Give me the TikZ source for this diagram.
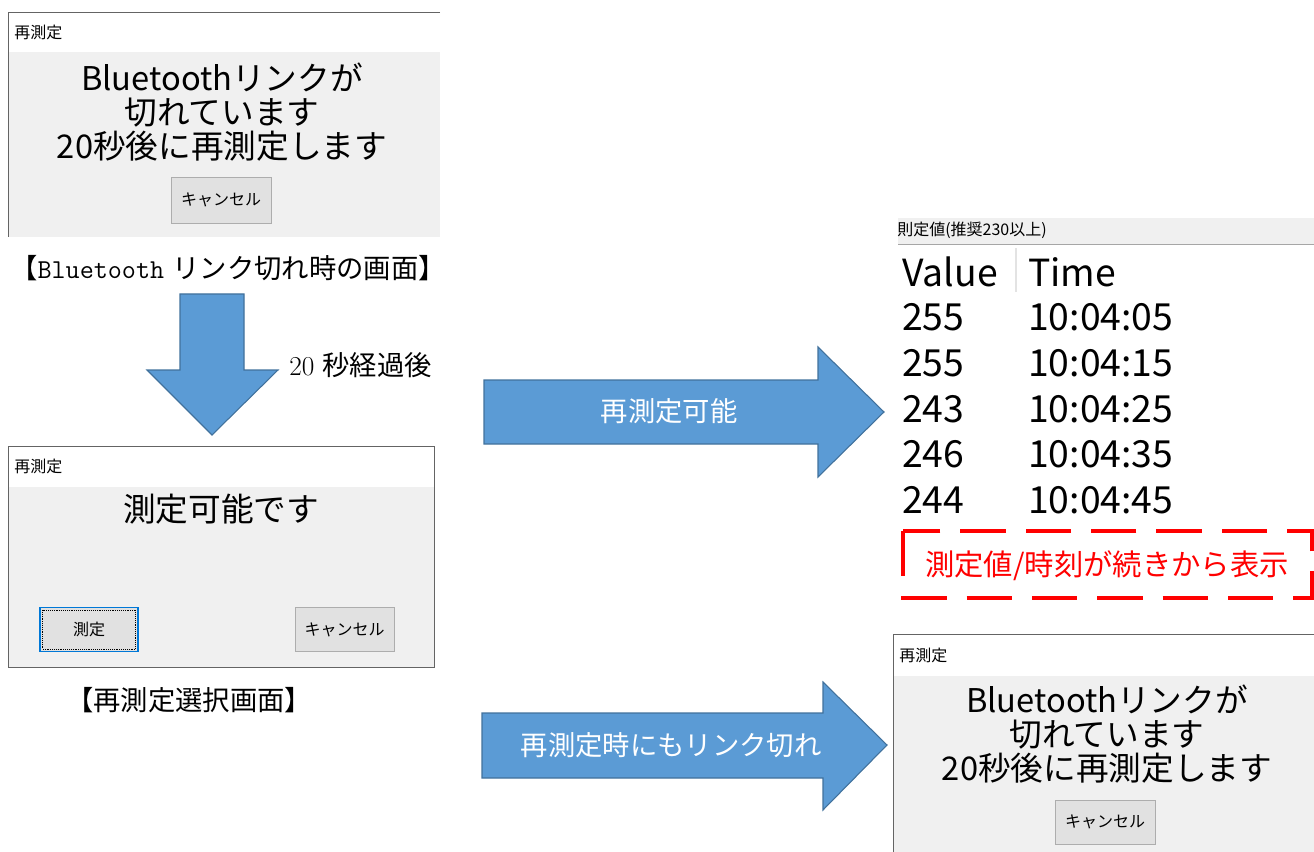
\documentclass[tikz,border=0pt]{standalone}
\usepackage{fontspec}
\newfontfamily\jp{Noto Sans CJK JP}
\usetikzlibrary{positioning}

\definecolor{winbg}{HTML}{F0F0F0}
\definecolor{frameline}{HTML}{646464}
\definecolor{btnfill}{HTML}{E1E1E1}
\definecolor{btnline}{HTML}{ADADAD}
\definecolor{focusblue}{HTML}{0078D7}
\definecolor{arrowfill}{HTML}{5B9BD5}
\definecolor{arrowline}{HTML}{41719C}
\definecolor{sepgray}{HTML}{E3E3E3}

\begin{document}
\begin{tikzpicture}[
    x=0.75pt, y=-0.75pt,
    wintitle/.style={anchor=west, inner sep=0pt, font=\jp\fontsize{12}{12}\selectfont},
    msg/.style={align=center, inner sep=0pt, font=\jp\fontsize{24.5}{25.5}\selectfont},
    btn/.style={draw=btnline, fill=btnfill, minimum width=75pt, minimum height=33pt,
                inner sep=0pt, font=\jp\fontsize{12}{12}\selectfont},
    caption/.style={inner sep=0pt, font=\fontsize{20.5}{21}\selectfont},
    bigarrow/.style={fill=arrowfill, draw=arrowline, line width=0.8pt},
    arrowtxt/.style={text=white, inner sep=0pt, font=\jp\fontsize{20.5}{21}\selectfont},
    cell/.style={anchor=west, inner sep=0pt, font=\jp\fontsize{28}{28}\selectfont},
    note/.style={text=red, inner sep=0pt, font=\jp\fontsize{22}{22}\selectfont}
  ]
  \useasboundingbox (0,0) rectangle (1314,852);

  %% Bluetooth link lost window (top left)
  \fill[white] (8,12) rectangle (440,52);
  \fill[winbg] (8,52) rectangle (440,237);
  \draw[frameline] (440,12) -- (8,12) -- (8,237);
  \node (title1) [wintitle] at (14,32) {再測定};
  \node (msg1) [msg] at (222,112) {Bluetoothリンクが\\切れています\\20秒後に再測定します};
  \node (cancel1) [btn, minimum width=75pt, minimum height=34.5pt] at (221,200) {キャンセル};
  \node (cap1) [caption] at (228,268) {{\jp 【}{\ttfamily Bluetooth} {\jp リンク切れ時の画面】}};

  %% 20 s later
  \draw[bigarrow] (180,294) -- (244,294) -- (244,370) -- (278,370) -- (212,435)
       -- (147,370) -- (180,370) -- cycle;
  \node (wait) [caption, right=0pt of {(289,365)}] {20 {\jp 秒経過後}};

  %% Re-measure select window
  \fill[white] (8,446) rectangle (434,487);
  \fill[winbg] (8,487) rectangle (434,667);
  \draw[frameline] (8,446) rectangle (434,667);
  \node (title2) [wintitle] at (14,466) {再測定};
  \node (msg2) [msg] at (221,509) {測定可能です};
  \node (ok2) [btn, draw=focusblue, line width=1.2pt, minimum width=73.5pt] at (89,629.5) {測定};
  \draw[densely dotted] ([shift={(2.5pt,-2.5pt)}]ok2.north west) rectangle ([shift={(-2.5pt,2.5pt)}]ok2.south east);
  \node (cancel2) [btn, minimum width=74pt] at (344.5,629.5) {キャンセル};
  \node (cap2) [caption] at (189,700) {\jp 【再測定選択画面】};

  %% Block arrows to the right
  \draw[bigarrow] (484,380) -- (818,380) -- (818,347) -- (884,412) -- (818,477)
       -- (818,444) -- (484,444) -- cycle;
  \node (okay) [arrowtxt] at (669,411) {再測定可能};
  \draw[bigarrow] (482,713) -- (823,713) -- (823,682) -- (887,745) -- (823,810)
       -- (823,778) -- (482,778) -- cycle;
  \node (lost) [arrowtxt] at (671,745) {再測定時にもリンク切れ};

  %% Value list (right)
  \fill[winbg] (898,218) rectangle (1314,244);
  \draw[gray!70] (898,244) -- (1314,244);
  \node (head) [wintitle] at (897,230) {則定値(推奨230以上)};
  \draw[sepgray, line width=1pt] (1016,248) -- (1016,292);
  \node (colv) [cell] at (902,272) {Value};
  \node (colt) [cell] at (1028,272) {Time};
  \foreach \v/\t [count=\i] in {255/10:04:05, 255/10:04:15, 243/10:04:25, 246/10:04:35, 244/10:04:45}{
    \node (v\i) [cell] at (902,272+45.6*\i) {\v};
    \node (t\i) [cell] at (1028,272+45.6*\i) {\t};
  }
  \draw[red, line width=3pt, dash pattern=on 34pt off 15pt] (903,531) rectangle (1312,598);
  \node (cont) [note] at (1107,566) {測定値/時刻が続きから表示};

  %% Link lost again window (bottom right)
  \fill[white] (893,634) rectangle (1314,676);
  \fill[winbg] (893,676) rectangle (1314,852);
  \draw[frameline] (1314,634) -- (893,634) -- (893,852);
  \node (title3) [wintitle] at (899,655) {再測定};
  \node (msg3) [msg] at (1107,734) {Bluetoothリンクが\\切れています\\20秒後に再測定します};
  \node (cancel3) [btn, minimum width=75pt, minimum height=33pt] at (1105,822) {キャンセル};
\end{tikzpicture}
\end{document}
